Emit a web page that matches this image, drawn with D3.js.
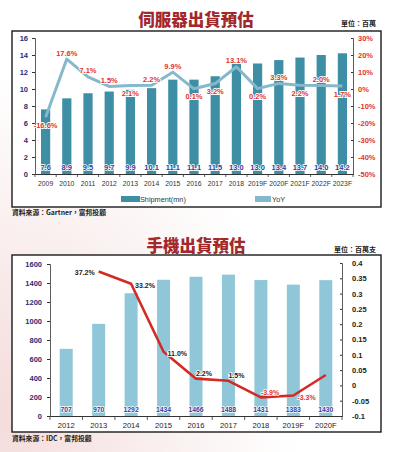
<!DOCTYPE html>
<html><head><meta charset="utf-8">
<script src="https://cdn.jsdelivr.net/npm/d3@7"></script>
<style>
html,body{margin:0;padding:0;background:#fff;}
svg{display:block;}
</style></head>
<body>
<svg id="c" width="398" height="452"></svg>
<script>
// ---------- data: server chart ----------
const serverYears = ["2009","2010","2011","2012","2013","2014","2015","2016","2017","2018","2019F","2020F","2021F","2022F","2023F"];
const serverShipment = [7.6,8.9,9.5,9.7,9.9,10.1,11.1,11.1,11.5,13.0,13.0,13.4,13.7,14.0,14.2];
const serverYoY = [-16.6,17.6,7.1,1.5,2.1,2.2,9.9,0.1,3.2,13.1,0.2,3.3,2.2,2.0,1.7];
const serverYoYLabelSide = ["below","above","above","above","below","above","above","below","below","above","below","above","below","above","below"];
const serverLeftTicks = [0,2,4,6,8,10,12,14,16];
const serverRightTicks = [30,20,10,0,-10,-20,-30,-40,-50];

// ---------- data: phone chart ----------
const phoneYears = ["2012","2013","2014","2015","2016","2017","2018","2019F","2020F"];
const phoneShipment = [707,970,1292,1434,1466,1488,1431,1383,1430];
const phoneYoY = [null,0.372,0.332,0.110,0.022,0.015,-0.039,-0.033,0.034];
const phoneYoYLabels = [null,"37.2%","33.2%","11.0%","2.2%","1.5%","-3.9%","-3.3%",null];
const phoneYoYLabelSide = [null,"left","right","right","upright","upright","upright","right",null];
const phoneLeftTicks = [0,200,400,600,800,1000,1200,1400,1600];
const phoneRightTicks = [-0.1,-0.05,0,0.05,0.1,0.15,0.2,0.25,0.3,0.35,0.4];

const svg = d3.select("#c");
const FONT = "'Liberation Sans', Arial, sans-serif";
const CJK = "'Noto Sans CJK TC', 'Noto Sans CJK SC', sans-serif";

// background tint
const defs = svg.append("defs");
const rg = defs.append("radialGradient").attr("id","bg").attr("cx","0%").attr("cy","92%").attr("r","75%");
rg.append("stop").attr("offset","0%").attr("stop-color","#f4dcdc");
rg.append("stop").attr("offset","100%").attr("stop-color","#ffffff");
svg.append("rect").attr("width",398).attr("height",452).attr("fill","url(#bg)");

function title(txt, y, unit, unitY){
  svg.append("text").attr("x",196).attr("y",y).attr("text-anchor","middle")
    .attr("dominant-baseline","central").attr("font-family",CJK).attr("font-weight",900)
    .attr("font-size",16.5).attr("fill","#a3282b").text(txt);
  svg.append("text").attr("x",376).attr("y",unitY).attr("text-anchor","end")
    .attr("dominant-baseline","central").attr("font-family",CJK).attr("font-weight",700)
    .attr("font-size",7).attr("fill","#222").text(unit);
}
function source(txt, y){
  svg.append("text").attr("x",12).attr("y",y).attr("dominant-baseline","central")
    .attr("font-family",CJK).attr("font-weight",700).attr("font-size",6.8).attr("fill","#222").text(txt);
}

// ================= TOP: server =================
title("伺服器出貨預估", 18.5, "單位：百萬", 23);
svg.append("rect").attr("x",12).attr("y",31).attr("width",369).attr("height",176)
  .attr("fill","#fff").attr("stroke","#1a1a1a").attr("stroke-width",1.4);

const tX = d3.scaleBand().domain(serverYears).range([35,353]);
const tY = d3.scaleLinear().domain([0,16]).range([174,38]);
const tY2 = d3.scaleLinear().domain([-50,30]).range([174,38]);
const tg = svg.append("g");

// bars
tg.selectAll("rect.bar").data(serverShipment).join("rect")
  .attr("x",(d,i)=>tX(serverYears[i])+tX.bandwidth()/2-4.6)
  .attr("width",9.2)
  .attr("y",d=>tY(d)).attr("height",d=>tY(0)-tY(d))
  .attr("fill","#3e8ea5");

// left axis
const tla = tg.append("g").attr("transform","translate(35,0)")
  .call(d3.axisLeft(tY).tickValues(serverLeftTicks).tickSize(3).tickPadding(4));
tla.select(".domain").attr("stroke","#333").attr("stroke-width",0.8);
tla.selectAll(".tick line").attr("stroke","#333");
tla.selectAll("text").attr("font-family",FONT).attr("font-weight",700).attr("font-size",7.5).attr("fill","#2b2b78");

// right axis
const tra = tg.append("g").attr("transform","translate(353,0)")
  .call(d3.axisRight(tY2).tickValues(serverRightTicks).tickSize(-2).tickPadding(5).tickFormat(d=>d+"%"));
tra.select(".domain").attr("stroke","#333").attr("stroke-width",0.8);
tra.selectAll(".tick line").attr("stroke","#333");
tra.selectAll("text").attr("font-family",FONT).attr("font-weight",700).attr("font-size",7.5).attr("fill","#e2342a");

// bottom axis
const tba = tg.append("g").attr("transform","translate(0,174)")
  .call(d3.axisBottom(tX).tickSize(0).tickPadding(7));
tba.select(".domain").attr("stroke","#333").attr("stroke-width",1);
tba.selectAll("text").attr("font-family",FONT).attr("font-size",6.8).attr("fill","#333");
tg.selectAll("line.sep").data(d3.range(serverYears.length+1)).join("line")
  .attr("x1",i=>35+i*tX.step()).attr("x2",i=>35+i*tX.step())
  .attr("y1",174).attr("y2",177).attr("stroke","#333").attr("stroke-width",0.8);

// bar value labels
tg.selectAll("text.bv").data(serverShipment).join("text")
  .attr("x",(d,i)=>tX(serverYears[i])+tX.bandwidth()/2).attr("y",167)
  .attr("text-anchor","middle").attr("dominant-baseline","central")
  .attr("font-family",FONT).attr("font-weight",700).attr("font-size",7.5)
  .attr("fill","#3a3a9a").attr("stroke","#fff").attr("stroke-width",1.6).attr("paint-order","stroke")
  .text(d=>d.toFixed(1));

// YoY line
const tLine = d3.line().x((d,i)=>tX(serverYears[i])+tX.bandwidth()/2).y(d=>tY2(d));
tg.append("path").datum(serverYoY).attr("d",tLine).attr("fill","none")
  .attr("stroke","#86b8cc").attr("stroke-width",3).attr("stroke-linejoin","round");

tg.selectAll("text.yl").data(serverYoY).join("text")
  .attr("x",(d,i)=>tX(serverYears[i])+tX.bandwidth()/2)
  .attr("y",(d,i)=>tY2(d)+(serverYoYLabelSide[i]==="above"?-6:8))
  .attr("text-anchor","middle").attr("dominant-baseline","central")
  .attr("font-family",FONT).attr("font-weight",700).attr("font-size",7.5)
  .attr("fill","#e2342a").attr("stroke","#fff").attr("stroke-width",1.8).attr("paint-order","stroke")
  .text(d=>d.toFixed(1)+"%");

// legend
tg.append("rect").attr("x",121).attr("y",196).attr("width",19).attr("height",6).attr("fill","#3e8ea5");
tg.append("text").attr("x",140).attr("y",199.5).attr("dominant-baseline","central")
  .attr("font-family",FONT).attr("font-size",7.3).attr("fill","#333").text("Shipment(mn)");
tg.append("rect").attr("x",255).attr("y",196).attr("width",16).attr("height",6).attr("fill","#86b8cc");
tg.append("text").attr("x",272).attr("y",199.5).attr("dominant-baseline","central")
  .attr("font-family",FONT).attr("font-size",7.3).attr("fill","#333").text("YoY");

source("資料來源：Gartner，富邦投顧", 212);

// ================= BOTTOM: phone =================
title("手機出貨預估", 245, "單位：百萬支", 248.5);
svg.append("rect").attr("x",12).attr("y",255).attr("width",369).attr("height",177)
  .attr("fill","#fff").attr("stroke","#1a1a1a").attr("stroke-width",1.4);

const bX = d3.scaleBand().domain(phoneYears).range([50,342]);
const bY = d3.scaleLinear().domain([0,1600]).range([416,264]);
const bY2 = d3.scaleLinear().domain([-0.1,0.4]).range([416,263]);
const bg = svg.append("g");

bg.selectAll("rect.bar").data(phoneShipment).join("rect")
  .attr("x",(d,i)=>bX(phoneYears[i])+bX.bandwidth()/2-6.5)
  .attr("width",13)
  .attr("y",d=>bY(d)).attr("height",d=>bY(0)-bY(d))
  .attr("fill","#8fc7d8");

const bla = bg.append("g").attr("transform","translate(50,0)")
  .call(d3.axisLeft(bY).tickValues(phoneLeftTicks).tickSize(3).tickPadding(5).tickFormat(d3.format("d")));
bla.select(".domain").attr("stroke","#333").attr("stroke-width",0.8);
bla.selectAll(".tick line").attr("stroke","#333");
bla.selectAll("text").attr("font-family",FONT).attr("font-weight",700).attr("font-size",7.5).attr("fill","#2b2b78");

const bra = bg.append("g").attr("transform","translate(342,0)")
  .call(d3.axisRight(bY2).tickValues(phoneRightTicks).tickSize(-2).tickPadding(10).tickFormat(d=>String(+d.toFixed(2))));
bra.select(".domain").attr("stroke","#333").attr("stroke-width",0.8);
bra.selectAll(".tick line").attr("stroke","#333");
bra.selectAll("text").attr("font-family",FONT).attr("font-weight",700).attr("font-size",7.5).attr("fill","#222");

const bba = bg.append("g").attr("transform","translate(0,416)")
  .call(d3.axisBottom(bX).tickSize(0).tickPadding(7));
bba.select(".domain").attr("stroke","#333").attr("stroke-width",1);
bba.selectAll("text").attr("font-family",FONT).attr("font-size",7.6).attr("fill","#222");
bg.selectAll("line.sep").data(d3.range(phoneYears.length+1)).join("line")
  .attr("x1",i=>50+i*bX.step()).attr("x2",i=>50+i*bX.step())
  .attr("y1",416).attr("y2",420).attr("stroke","#333").attr("stroke-width",0.8);

bg.selectAll("text.bv").data(phoneShipment).join("text")
  .attr("x",(d,i)=>bX(phoneYears[i])+bX.bandwidth()/2).attr("y",409.5)
  .attr("text-anchor","middle").attr("dominant-baseline","central")
  .attr("font-family",FONT).attr("font-weight",700).attr("font-size",6.8)
  .attr("fill","#3a3a9a").attr("stroke","#fff").attr("stroke-width",1.4).attr("paint-order","stroke")
  .text(d=>d);

const bLine = d3.line().defined(d=>d!==null)
  .x((d,i)=>bX(phoneYears[i])+bX.bandwidth()/2).y(d=>bY2(d));
bg.append("path").datum(phoneYoY).attr("d",bLine).attr("fill","none")
  .attr("stroke","#d42a24").attr("stroke-width",2.6).attr("stroke-linejoin","round");

const off = {left:{dx:-4,dy:1,a:"end"}, right:{dx:4,dy:2,a:"start"}, upright:{dx:0,dy:-5,a:"start"}};
phoneYoY.forEach((d,i)=>{
  if(d===null || !phoneYoYLabels[i]) return;
  const o = off[phoneYoYLabelSide[i]];
  bg.append("text")
    .attr("x",bX(phoneYears[i])+bX.bandwidth()/2+o.dx).attr("y",bY2(d)+o.dy)
    .attr("text-anchor",o.a).attr("dominant-baseline","central")
    .attr("font-family",FONT).attr("font-weight",700).attr("font-size",7)
    .attr("fill",d<0?"#e2342a":"#222").attr("stroke","#fff").attr("stroke-width",1.5).attr("paint-order","stroke")
    .text(phoneYoYLabels[i]);
});

source("資料來源：IDC，富邦投顧", 438);
</script>
</body></html>
